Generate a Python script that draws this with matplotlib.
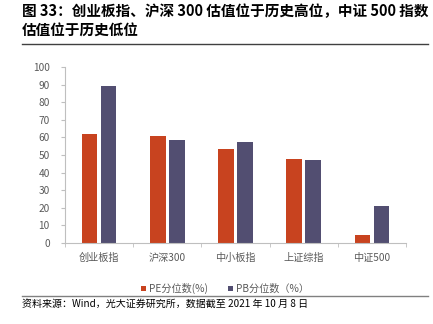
import matplotlib.pyplot as plt
import numpy as np

plt.rcParams['font.family'] = ['Noto Sans CJK SC', 'DejaVu Sans']

categories = ['创业板指', '沪深300', '中小板指', '上证综指', '中证500']
pe_pct = [61.9, 61.0, 53.6, 47.7, 4.5]
pb_pct = [89.4, 58.7, 57.5, 47.3, 21.2]
pe_label = 'PE分位数(%)'
pb_label = 'PB分位数（%）'

pe_color = '#C8431F'
pb_color = '#524E71'
axis_color = '#BFBFBF'
text_color = '#595959'

fig = plt.figure(figsize=(4.33, 3.24), dpi=100)
ax = fig.add_axes([65 / 433, 1 - 243 / 324, (406 - 65) / 433, (243 - 67) / 324])

x = np.arange(len(categories))
w = 0.23
ax.bar(x - 0.14, pe_pct, w, color=pe_color, label=pe_label)
ax.bar(x + 0.14, pb_pct, w, color=pb_color, label=pb_label)

ax.set_xlim(-0.5, len(categories) - 0.5)
ax.set_ylim(0, 100)
ax.set_yticks(range(0, 101, 10))
ax.set_xticks(x)
ax.set_xticklabels(categories)
ax.set_xticks(np.arange(-0.5, len(categories)), minor=True)
ax.tick_params(axis='x', which='major', length=0, pad=7, labelsize=7.3, labelcolor=text_color)
ax.tick_params(axis='x', which='minor', length=3, color=axis_color)
ax.tick_params(axis='y', length=3, color=axis_color, labelsize=7.3, labelcolor=text_color, pad=8)

for s in ['top', 'right']:
    ax.spines[s].set_visible(False)
for s in ['left', 'bottom']:
    ax.spines[s].set_color(axis_color)
    ax.spines[s].set_linewidth(0.8)

ax.legend(loc='center', bbox_to_anchor=(0.47, -0.26), ncol=2, frameon=False,
          fontsize=7.3, labelcolor=text_color, handlelength=0.5, handleheight=0.5,
          handletextpad=0.3, columnspacing=2.0)

fig.text(22 / 433, 1 - 3 / 324, '图 33：创业板指、沪深 300 估值位于历史高位，中证 500 指数\n估值位于历史低位',
         fontsize=10.5, fontweight='bold', va='top', ha='left', color='black', linespacing=1.2)
fig.add_artist(plt.Line2D([22 / 433, 428 / 433], [1 - 44 / 324, 1 - 44 / 324], color='#404040', lw=1.0))
fig.add_artist(plt.Line2D([22 / 433, 428 / 433], [1 - 296 / 324, 1 - 296 / 324], color='#808080', lw=1.0))
fig.text(22 / 433, 1 - 299 / 324, '资料来源：Wind，光大证券研究所，数据截至 2021 年 10 月 8 日',
         fontsize=7.2, va='top', ha='left', color='black')

fig.savefig('out.png', dpi=100)
